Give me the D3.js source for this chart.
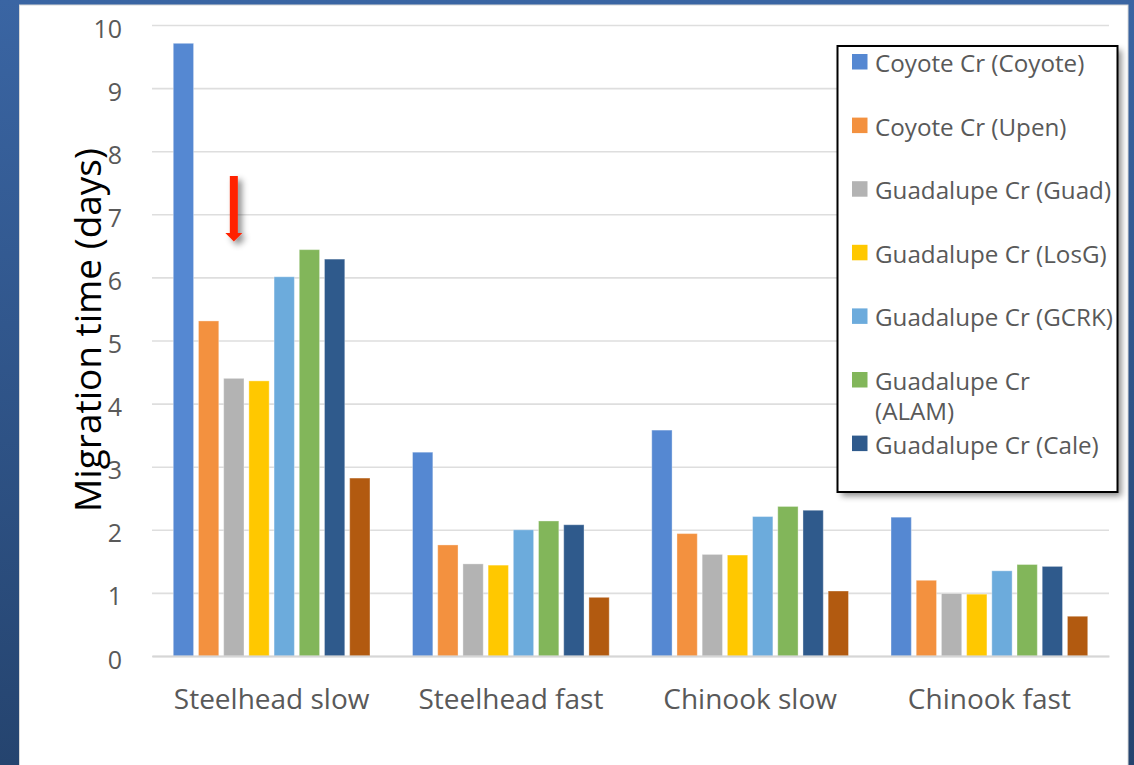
<!DOCTYPE html>
<html>
<head>
<meta charset="utf-8">
<script src="https://cdn.jsdelivr.net/npm/d3@7"></script>
<style>
  html, body { margin: 0; padding: 0; background: #2d5088; }
  svg { display: block; }
  text { font-family: "Open Sans", "DejaVu Sans", sans-serif; }
</style>
</head>
<body>
<svg id="chart" width="1134" height="765"></svg>
<script>
// Fish groups on the x axis
const categories = ["Steelhead slow", "Steelhead fast", "Chinook slow", "Chinook fast"];

// Legend entries for the monitored reaches
const seriesNames = [
  "Coyote Cr (Coyote)",
  "Coyote Cr (Upen)",
  "Guadalupe Cr (Guad)",
  "Guadalupe Cr (LosG)",
  "Guadalupe Cr (GCRK)",
  "Guadalupe Cr (ALAM)",
  "Guadalupe Cr (Cale)"
];

// Migration time (days), one array per reach, in category order
const coyoteCoyote = [9.71, 3.23, 3.58, 2.20];
const coyoteUpen   = [5.31, 1.76, 1.94, 1.20];
const guadGuad     = [4.40, 1.46, 1.61, 0.99];
const guadLosG     = [4.36, 1.44, 1.60, 0.98];
const guadGCRK     = [6.01, 2.00, 2.21, 1.35];
const guadALAM     = [6.44, 2.14, 2.37, 1.45];
const guadCale     = [6.29, 2.08, 2.31, 1.42];
const eighthReach  = [2.82, 0.93, 1.03, 0.63];

const seriesValues = [coyoteCoyote, coyoteUpen, guadGuad, guadLosG, guadGCRK, guadALAM, guadCale, eighthReach];

const seriesColors = ["#5588d2", "#f3913f", "#b3b3b3", "#ffc800", "#6cabdc", "#82b65a", "#2f5a8c", "#b25a10"];

const yTicks = [0, 1, 2, 3, 4, 5, 6, 7, 8, 9, 10];

const svg = d3.select("#chart");
const W = 1134, H = 765;

// Slide background and white chart panel
const defs = svg.append("defs");
const bg = defs.append("linearGradient").attr("id", "bgGrad")
  .attr("x1", 0).attr("y1", 0).attr("x2", 0).attr("y2", 1);
bg.append("stop").attr("offset", "0%").attr("stop-color", "#3a65a3");
bg.append("stop").attr("offset", "100%").attr("stop-color", "#25446f");
svg.append("rect").attr("width", W).attr("height", H).attr("fill", "url(#bgGrad)");
svg.append("rect").attr("x", 19.5).attr("y", 5).attr("width", 1108.5).attr("height", 770)
  .attr("fill", "#ffffff").attr("stroke", "#d8d8d8").attr("stroke-width", 1);

// Drop shadows for the arrow and legend box
const sh = defs.append("filter").attr("id", "shadow")
  .attr("x", "-50%").attr("y", "-50%").attr("width", "200%").attr("height", "200%");
sh.append("feDropShadow").attr("dx", 4).attr("dy", 4).attr("stdDeviation", 3)
  .attr("flood-color", "#000").attr("flood-opacity", 0.45);

const margin = { left: 152, top: 25, right: 25, bottom: 109 };
const width = W - margin.left - margin.right;   // 957
const height = H - margin.top - margin.bottom;  // 631

const g = svg.append("g").attr("transform", `translate(${margin.left},${margin.top})`);

const y = d3.scaleLinear().domain([0, 10]).range([height, 0]);
const x0 = d3.scaleBand().domain(categories).range([0, width]).paddingInner(0).paddingOuter(0);
const x1 = d3.scaleBand().domain(d3.range(seriesValues.length))
  .range([0, x0.bandwidth()]).paddingInner(0.194).paddingOuter(0.844);

// Value axis with horizontal gridlines
const yAxis = g.append("g").call(
  d3.axisLeft(y).tickValues(yTicks).tickSize(-width).tickPadding(30).tickFormat(d3.format("d"))
);
yAxis.select(".domain").remove();
yAxis.selectAll(".tick line").attr("stroke", "#dedede").attr("stroke-width", 1.6);
yAxis.selectAll(".tick text")
  .attr("fill", "#595959").attr("font-size", 25).attr("dy", "0.48em")
  .style("font-family", "'Open Sans', sans-serif");

// Bars
const groups = g.selectAll(".cat").data(categories).join("g")
  .attr("class", "cat")
  .attr("transform", d => `translate(${x0(d)},0)`);

groups.selectAll("rect")
  .data((c, ci) => seriesValues.map((vals, si) => ({ si, v: vals[ci] })))
  .join("rect")
  .attr("x", d => x1(d.si))
  .attr("y", d => y(d.v))
  .attr("width", x1.bandwidth())
  .attr("height", d => y(0) - y(d.v))
  .attr("fill", d => seriesColors[d.si])
  .attr("stroke", "#ffffff").attr("stroke-opacity", 0.35).attr("stroke-width", 1);

// Category axis on the baseline
const xAxis = g.append("g").attr("transform", `translate(0,${height})`)
  .call(d3.axisBottom(x0).tickSize(0).tickPadding(33));
xAxis.select(".domain").attr("stroke", "#d6d6d6").attr("stroke-width", 2);
xAxis.selectAll(".tick text")
  .attr("fill", "#595959").attr("font-size", 28)
  .style("font-family", "'Open Sans', sans-serif");

// Axis title
svg.append("text")
  .attr("transform", "translate(101,330) rotate(-90)")
  .attr("text-anchor", "middle")
  .attr("font-size", 37)
  .attr("fill", "#000000")
  .text("Migration time (days)");

// Red callout arrow pointing down above the third bar of the first group
const arrowX = margin.left + x0(categories[0]) + x1(2) + x1.bandwidth() / 2;
const arrow = d3.path();
arrow.moveTo(arrowX - 4, 176);
arrow.lineTo(arrowX + 4, 176);
arrow.lineTo(arrowX + 4, 233);
arrow.lineTo(arrowX + 8.5, 233);
arrow.lineTo(arrowX, 241.5);
arrow.lineTo(arrowX - 8.5, 233);
arrow.lineTo(arrowX - 4, 233);
arrow.closePath();
svg.append("path").attr("d", arrow.toString())
  .attr("fill", "#ff2200").attr("filter", "url(#shadow)");

// Legend box
const lg = svg.append("g");
const box = { x: 837.5, y: 46, w: 280, h: 446 };
defs.append("clipPath").attr("id", "legendClip")
  .append("rect").attr("x", box.x).attr("y", box.y).attr("width", box.w).attr("height", box.h);
lg.append("rect")
  .attr("x", box.x).attr("y", box.y).attr("width", box.w).attr("height", box.h)
  .attr("fill", "#ffffff").attr("filter", "url(#shadow)");
const items = lg.append("g").attr("clip-path", "url(#legendClip)");
const rowStep = 63.6;
seriesNames.forEach((name, i) => {
  const top = 54 + i * rowStep;
  items.append("rect")
    .attr("x", 852).attr("y", top).attr("width", 15.5).attr("height", 15.5)
    .attr("fill", seriesColors[i]);
  // Long names wrap onto a second line as in a narrow legend column
  const lines = name === "Guadalupe Cr (ALAM)" ? ["Guadalupe Cr", "(ALAM)"] : [name];
  const t = items.append("text")
    .attr("x", 875).attr("y", top + 18)
    .attr("font-size", 24.2).attr("fill", "#595959");
  lines.forEach((ln, k) => {
    t.append("tspan").attr("x", 875).attr("dy", k === 0 ? 0 : 30).text(ln);
  });
});
lg.append("rect")
  .attr("x", box.x).attr("y", box.y).attr("width", box.w).attr("height", box.h)
  .attr("fill", "none").attr("stroke", "#000000").attr("stroke-width", 2);
</script>
</body>
</html>
